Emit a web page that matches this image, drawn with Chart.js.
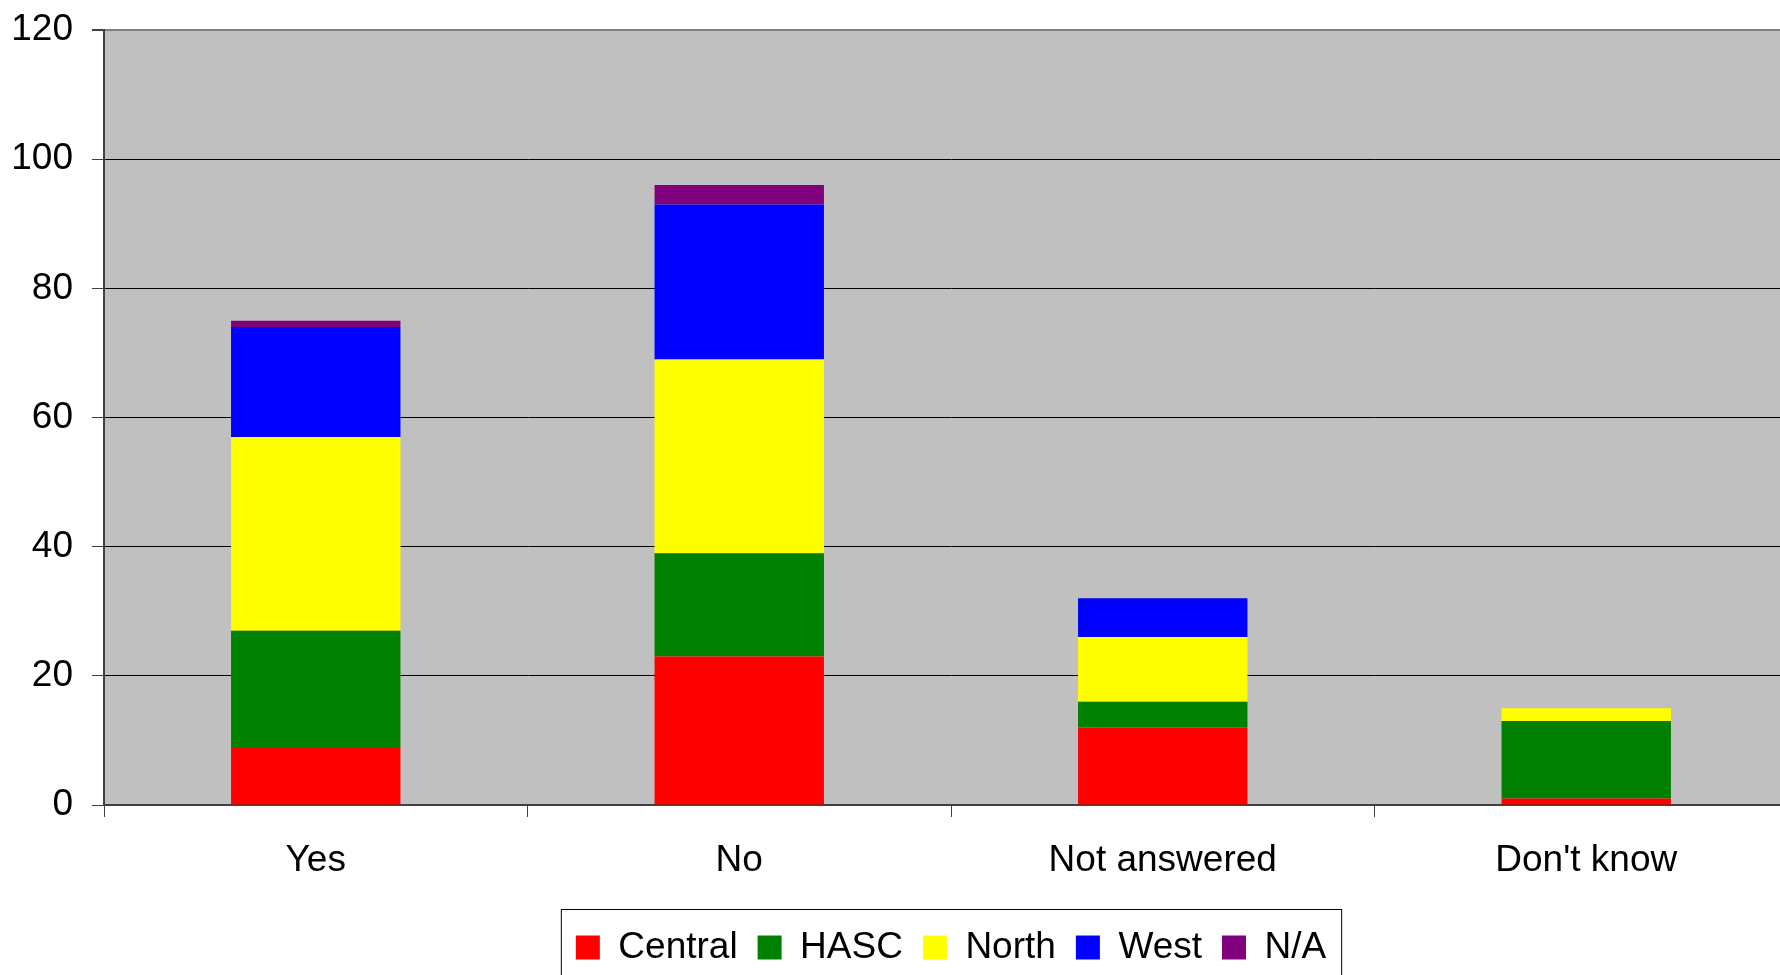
<!DOCTYPE html>
<html>
<head>
<meta charset="utf-8">
<script src="https://cdn.jsdelivr.net/npm/chart.js@4.4.0/dist/chart.umd.min.js"></script>
<style>
  html, body { margin: 0; padding: 0; background: #fff; overflow: hidden; }
  #wrap { position: relative; width: 1800px; height: 976px; }
</style>
</head>
<body>
<div id="wrap"><canvas id="answersChart"></canvas></div>
<script>
var categories = ["Yes", "No", "Not answered", "Don't know"];
var central = [9, 23, 12, 1];
var hasc    = [18, 16, 4, 12];
var north   = [30, 30, 10, 2];
var west    = [17, 24, 6, 0];
var na      = [1, 3, 0, 0];
var yTicks  = [0, 20, 40, 60, 80, 100, 120];

var font = "'Liberation Sans', Arial, sans-serif";

// grey plot background + box round the legend
var plotBg = {
	id: 'plotBg',
	beforeDraw: function(chart) {
		var a = chart.chartArea, ctx = chart.ctx;
		ctx.save();
		ctx.fillStyle = '#C0C0C0';
		ctx.fillRect(a.left, a.top, a.right - a.left, a.bottom - a.top);
		ctx.restore();
	},
	afterDraw: function(chart) {
		var lg = chart.legend, ctx = chart.ctx;
		if (!lg || !lg.legendHitBoxes.length) return;
		var first = lg.legendHitBoxes[0], last = lg.legendHitBoxes[lg.legendHitBoxes.length - 1];
		var x0 = first.left - 15, x1 = last.left + last.width + 15;
		ctx.save();
		ctx.strokeStyle = '#000';
		ctx.lineWidth = 1;
		ctx.strokeRect(x0 + 0.5, lg.top + 0.5, x1 - x0, 120);
		ctx.restore();
	}
};

function ds(label, data, color) {
	return {
		label: label,
		data: data,
		backgroundColor: color,
		borderWidth: 0,
		categoryPercentage: 0.8,
		barPercentage: 0.5
	};
}

new Chart(document.getElementById('answersChart'), {
	type: 'bar',
	data: {
		labels: categories,
		datasets: [
			ds('Central', central, '#FF0000'),
			ds('HASC', hasc, '#008000'),
			ds('North', north, '#FFFF00'),
			ds('West', west, '#0000FF'),
			ds('N/A', na, '#800080')
		]
	},
	options: {
		responsive: true,
		maintainAspectRatio: false,
		animation: false,
		layout: { padding: { top: 30, left: 0, right: 2, bottom: 0 } },
		plugins: {
			tooltip: { enabled: false },
			legend: {
				position: 'bottom',
				fullSize: false,
				labels: {
					color: '#000',
					font: { family: font, size: 37 },
					boxWidth: 24,
					boxHeight: 24,
					padding: 20
				}
			}
		},
		scales: {
			x: {
				stacked: true,
				grid: {
					offset: true,
					drawOnChartArea: false,
					drawTicks: true,
					tickLength: 12,
					color: '#404040'
				},
				border: { color: '#404040', width: 2 },
				ticks: {
					color: '#000',
					font: { family: font, size: 37 },
					padding: 22
				},
				afterFit: function(s) { s.height = 104; }
			},
			y: {
				stacked: true,
				min: 0,
				max: 120,
				afterBuildTicks: function(s) {
					s.ticks = yTicks.map(function(v) { return { value: v }; });
				},
				grid: {
					color: function(c) { return c.tick && c.tick.value === 120 ? '#808080' : '#000'; },
					lineWidth: function(c) { return c.tick && c.tick.value === 120 ? 2 : 1; },
					tickLength: 12,
					tickColor: '#404040'
				},
				border: { color: '#404040', width: 2 },
				ticks: {
					color: '#000',
					font: { family: font, size: 37 },
					padding: 19
				},
				afterFit: function(s) {
					s.width = 104;
					s.paddingTop = 0;
					s.paddingBottom = 0;
				}
			}
		}
	},
	plugins: [plotBg]
});
</script>
</body>
</html>
